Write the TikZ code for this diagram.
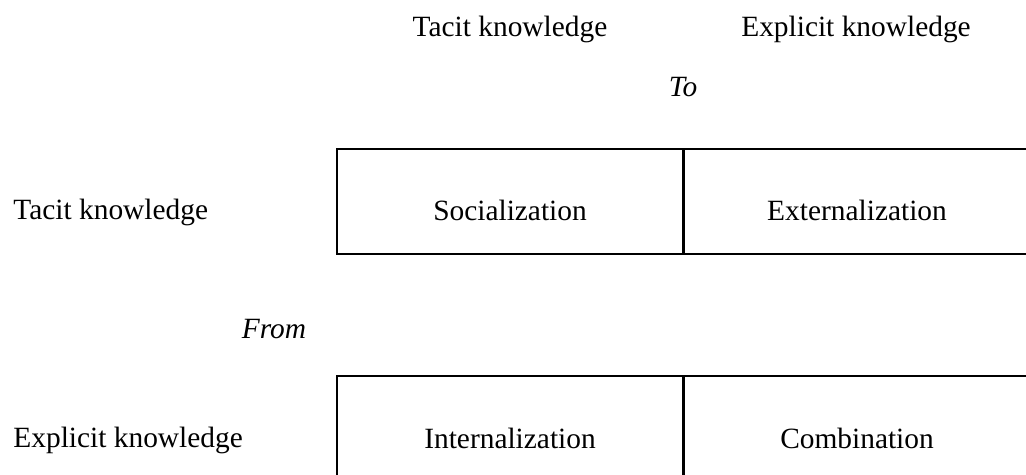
\documentclass[tikz,border=0pt]{standalone}
\usepackage{fontspec}
\setmainfont{Liberation Serif}
\usetikzlibrary{positioning}

\begin{document}
\begin{tikzpicture}
  [
    x=0.5pt,y=-0.5pt,
    every node/.style={
      font=\fontsize{14.7}{17}\selectfont,
      inner sep=0pt
    },
    cell/.style={
      draw,
      line width=1pt,
      minimum width=173pt,
      text height=36pt,
      text depth=16.5pt
    },
    opencell/.style={
      cell,
      minimum width=180pt
    },
    head/.style={
      anchor=base
    },
    side/.style={
      anchor=base west
    }
  ]
  \useasboundingbox (0,0) rectangle (1026,475);
  % the four modes
  \node [cell,anchor=north west] (soc) at (336,148) {Socialization};
  \node [opencell,right=-0.5pt of soc] (ext) {\hspace*{-7pt}Externalization};
  \node [cell,anchor=north west] (int) at (336,375) {Internalization};
  \node [opencell,right=-0.5pt of int] (com) {\hspace*{-7pt}Combination};
    % labels
    % to-labels
    \node [head] (totacit) at (510,37) {Tacit knowledge};
    \node [head] (toexplicit) at (856,37) {Explicit knowledge};
    \node [head] (to) at (683,97) {\itshape To};
    % from-labels
    \node [side] (fromtacit) at (13,220) {Tacit knowledge};
    \node [head] (from) at (274,338) {\itshape From};
    \node [side] (fromexplicit) at (13,447) {Explicit knowledge};
\end{tikzpicture}
\end{document}
